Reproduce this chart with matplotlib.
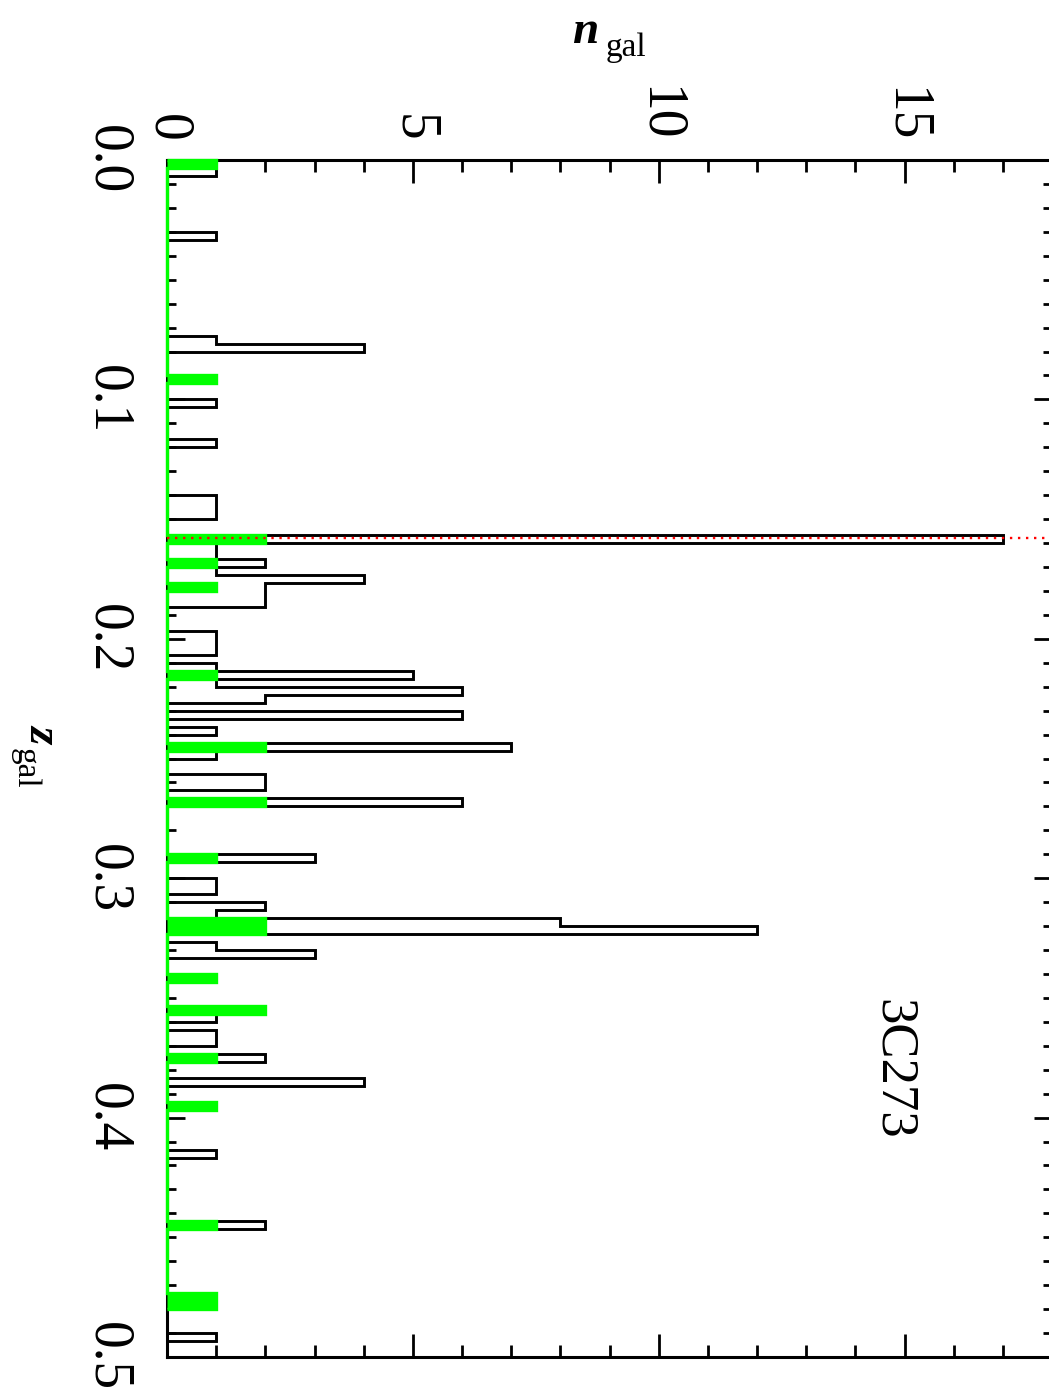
import numpy as np
import matplotlib
matplotlib.use('Agg')
import matplotlib.pyplot as plt
from matplotlib.ticker import MultipleLocator, FormatStrFormatter

plt.rcParams['font.family'] = 'Liberation Serif'

# redshift bins of 1000 km/s
dz = 1.0 / 300
nbins_all = 150
nbins_sel = 144

# all galaxies in the field: bin index -> number of galaxies
all_bins = [0, 1, 9, 22, 23, 27, 30, 35, 42, 43, 44, 47, 48, 49, 50, 51, 52,
            53, 54, 55, 59, 60, 61, 63, 64, 65, 66, 67, 69, 71, 73, 74, 77,
            78, 80, 87, 90, 91, 93, 94, 95, 96, 98, 99, 102, 106, 107, 109,
            110, 112, 115, 118, 124, 133, 142, 143, 147]
all_counts = [1, 1, 1, 1, 4, 1, 1, 1, 1, 1, 1, 17, 1, 1, 2, 1, 4,
              2, 2, 2, 1, 1, 1, 1, 5, 1, 6, 2, 6, 1, 7, 1, 2,
              2, 6, 3, 1, 1, 2, 1, 8, 12, 1, 3, 1, 2, 1, 1,
              1, 2, 4, 1, 1, 2, 1, 1, 1]

# selected subsample (green)
sel_bins = [0, 27, 47, 50, 53, 64, 73, 80, 87, 95, 96, 102, 106, 112, 118,
            133, 142, 143]
sel_counts = [1, 1, 2, 1, 1, 1, 2, 2, 1, 2, 2, 1, 2, 1, 1, 1, 1, 1]

z_qso = 0.158
qso_name = '3C273'


def fill_hist(bins, counts, n):
    h = np.zeros(n)
    h[bins] = counts
    return h


h_all = fill_hist(all_bins, all_counts, nbins_all)
h_sel = fill_hist(sel_bins, sel_counts, nbins_sel)
edges_all = np.arange(nbins_all + 1) * dz
edges_sel = np.arange(nbins_sel + 1) * dz

W, H = 1049, 1395
fig = plt.figure(figsize=(W / 100, H / 100), dpi=100)
ax = fig.add_axes([167 / W, 1 - 1357 / H, (1052 - 167) / W, (1357 - 160) / H])

ax.stairs(h_all, edges_all, orientation='horizontal', baseline=0,
          color='black', lw=2.1, zorder=2)
ax.stairs(h_sel, edges_sel, orientation='horizontal', baseline=0, fill=True,
          facecolor='#00ff00', edgecolor='#00ff00', lw=2.4, zorder=3,
          clip_on=False)
ax.axhline(z_qso, color='red', lw=1.7, ls=(0, (1, 2.4)), zorder=5)

ax.set_xlim(0, 18)
ax.set_ylim(0.5, 0)

ax.xaxis.set_major_locator(MultipleLocator(5))
ax.xaxis.set_minor_locator(MultipleLocator(1))
ax.yaxis.set_major_locator(MultipleLocator(0.1))
ax.yaxis.set_minor_locator(MultipleLocator(0.01))
ax.yaxis.set_major_formatter(FormatStrFormatter('%.1f'))

ax.tick_params(axis='x', which='both', direction='in', top=True, bottom=True,
               labeltop=True, labelbottom=False, width=2.0, labelsize=40,
               labelrotation=-90, pad=13)
ax.tick_params(axis='x', which='major', length=16.5)
ax.tick_params(axis='x', which='minor', length=8.6)
ax.tick_params(axis='y', which='both', direction='in', left=True, right=True,
               labelleft=True, width=2.0, labelsize=40, labelrotation=-90,
               pad=24)
ax.tick_params(axis='y', which='major', length=13)
ax.tick_params(axis='y', which='minor', length=6.5)
for s in ax.spines.values():
    s.set_linewidth(2.2)

fig.canvas.draw()
for lab in ax.get_yticklabels():
    lab.set_va('center')
ax.xaxis.get_major_ticks()[0].label2.set_ha('left')

# axis titles
fig.text(585 / W, 1 - 32 / H, 'n', fontsize=34, fontweight='bold',
         style='italic', ha='center', va='center')
fig.text(626 / W, 1 - 48 / H, 'gal', fontsize=24, ha='center', va='center')
fig.text(42 / W, 1 - 733 / H, 'z', fontsize=34, fontweight='bold',
         style='italic', rotation=-90, ha='center', va='center')
fig.text(25 / W, 1 - 768 / H, 'gal', fontsize=24, rotation=-90,
         ha='center', va='center')

fig.text(893 / W, 1 - 1069 / H, qso_name, fontsize=38, rotation=-90,
         ha='center', va='center')

fig.savefig('out.png', dpi=100)
